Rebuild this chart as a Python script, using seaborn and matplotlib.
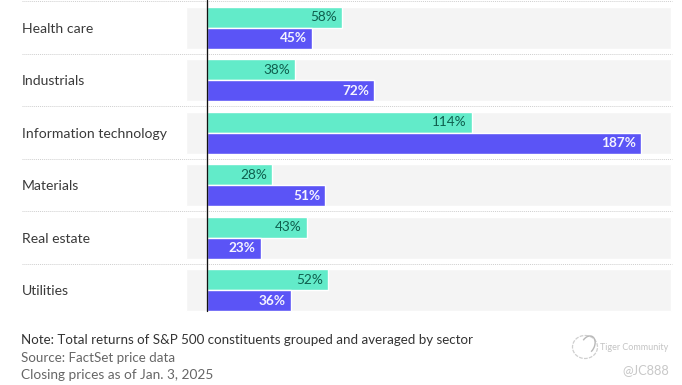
import matplotlib
matplotlib.use("Agg")
import matplotlib.pyplot as plt
from matplotlib.patches import Ellipse, Arc
import pandas as pd
import seaborn as sns

sectors = ["Health care", "Industrials", "Information technology", "Materials", "Real estate", "Utilities"]
teal_values = [58, 38, 114, 28, 43, 52]
purple_values = [45, 72, 187, 51, 23, 36]
panel_max = 200

W, H = 682, 385
sns.set_theme(style="white")
plt.rcParams["font.family"] = ["Lato", "DejaVu Sans"]
px = 72 / 100

df = pd.DataFrame({
    "sector": sectors * 2,
    "value": teal_values + purple_values,
    "series": ["Teal"] * 6 + ["Purple"] * 6,
})

fig = plt.figure(figsize=(W / 100, H / 100), dpi=100, facecolor="white")
left_px = 185.7
ax = fig.add_axes([left_px / W, 1 - 318 / H, (W - left_px) / W, 318 / H])
ax.set_facecolor("none")

ax.barh(sectors, [panel_max + 9.3] * 6, left=-9.3, height=0.8, color="#f4f4f4", zorder=0)
sns.barplot(data=df, y="sector", x="value", hue="series", order=sectors, hue_order=["Teal", "Purple"],
            palette={"Teal": "#62ebc9", "Purple": "#5b54f6"}, width=0.8, gap=0, dodge=True,
            saturation=1, legend=False, ax=ax, zorder=2)

scale = 2.318
zero_px = left_px + 9.3 * scale
ax.set_xlim(-9.3, (W - zero_px) / scale)
ax.set_ylim((318 - 27.7) / 52.5, -27.7 / 52.5)

for cont, col, wt in zip(ax.containers[-2:], ["#0f5f4e", "#f5f4ff"], ["normal", "bold"]):
    anns = ax.bar_label(cont, labels=[f"{int(b.get_width())}%" for b in cont],
                        padding=-5 * px, color=col, fontsize=9.8, fontweight=wt, zorder=4)
    for a in anns:
        a.set_ha("right")
        a.set_va("center")

ax.axvline(0, ymin=7 / 318, ymax=1, color="#111111", lw=0.95, zorder=5)

# row separators
for i in range(6):
    y = i - 0.5
    ax.plot([(22 - zero_px) / scale, (672 - zero_px) / scale], [y, y], color="#cfcfcf", lw=0.7,
            ls=(0, (1, 1)), clip_on=False, zorder=1)

for s in ax.spines.values():
    s.set_visible(False)
ax.set_xlabel("")
ax.set_ylabel("")
ax.set_xticks([])
ax.tick_params(axis="y", length=0, pad=(left_px - 22) * px, labelsize=10.1, labelcolor="#3a3a3a")
for t in ax.get_yticklabels():
    t.set_ha("left")


def ft(x, y, s, **kw):
    fig.text(x / W, 1 - y / H, s, va="center", ha=kw.pop("ha", "left"), **kw)


ft(21, 340, "Note: Total returns of S&P 500 constituents grouped and averaged by sector", fontsize=9.6, color="#333333")
ft(21, 358, "Source: FactSet price data", fontsize=9.6, color="#666666")
ft(21, 375, "Closing prices as of Jan. 3, 2025", fontsize=9.8, color="#666666")

# watermark
ft(600, 347, "Tiger Community", fontsize=6.5, color="#c4c4c4")
ft(669, 370, "@JC888", fontsize=9.2, color="#c8c8c8", ha="right")
ov = fig.add_axes([0, 0, 1, 1], facecolor="none")
ov.set_axis_off()
ov.set_xlim(0, W)
ov.set_ylim(H, 0)
ov.add_patch(Ellipse((585, 347), 25, 23, fill=False, ec="#cfcfcf", lw=0.9, ls=(0, (3, 1))))
ov.add_patch(Arc((588, 345), 13, 19, angle=25, theta1=200, theta2=40, ec="#b8b8b8", lw=1.0))

fig.savefig("out.png", dpi=100)
